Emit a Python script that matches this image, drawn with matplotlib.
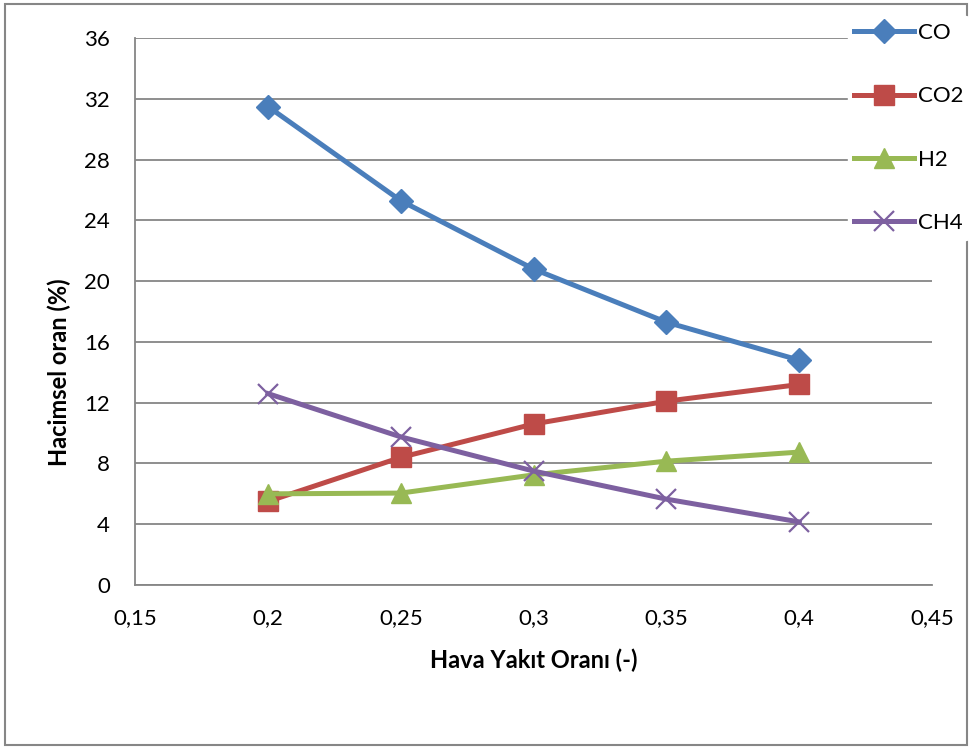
import matplotlib
matplotlib.use("Agg")
import matplotlib.pyplot as plt
from matplotlib.patches import Rectangle
from matplotlib.ticker import FixedLocator, FuncFormatter

plt.rcParams['font.family'] = ['Lato', 'DejaVu Sans']

# air/fuel ratio and gas composition (% by volume)
ratio = [0.2, 0.25, 0.3, 0.35, 0.4]
co = [31.5, 25.3, 20.8, 17.3, 14.8]
co2 = [5.5, 8.4, 10.6, 12.1, 13.2]
h2 = [6.0, 6.05, 7.25, 8.15, 8.75]
ch4 = [12.6, 9.75, 7.5, 5.65, 4.15]

x_ticks = [0.15, 0.2, 0.25, 0.3, 0.35, 0.4, 0.45]
y_ticks = [0, 4, 8, 12, 16, 20, 24, 28, 32, 36]

fig = plt.figure(figsize=(9.72, 7.49), dpi=100)
ax = fig.add_axes([0.139, 0.219, 0.820, 0.730])

ax.plot(ratio, co, color='#4a7ebb', lw=3.6, marker='D', ms=12, label='CO', zorder=3)
ax.plot(ratio, co2, color='#be4b48', lw=3.6, marker='s', ms=14, label='CO2', zorder=3)
ax.plot(ratio, h2, color='#98b954', lw=3.6, marker='^', ms=14, label='H2', zorder=3)
ax.plot(ratio, ch4, color='#7d60a0', lw=3.6, marker='x', ms=14, mew=1.6,
        label='CH4', zorder=3)

ax.set_xlim(0.15, 0.45)
ax.set_ylim(0, 36)
ax.xaxis.set_major_locator(FixedLocator(x_ticks))
ax.yaxis.set_major_locator(FixedLocator(y_ticks))
ax.xaxis.set_major_formatter(FuncFormatter(lambda v, p: ('%g' % v).replace('.', ',')))
ax.grid(axis='y', color='#868686', lw=1.3)
for s in ['top', 'right']:
    ax.spines[s].set_visible(False)
ax.spines['left'].set_color('#868686')
ax.spines['bottom'].set_color('#868686')
ax.spines['left'].set_linewidth(1.3)
ax.spines['bottom'].set_linewidth(1.3)
ax.tick_params(axis='y', length=0, labelsize=16, pad=18)
ax.tick_params(axis='x', length=0, labelsize=16, pad=17)

ax.set_xlabel('Hava Yakıt Oranı (-)', fontsize=17, fontweight='bold')
ax.set_ylabel('Hacimsel oran (%)', fontsize=17, fontweight='bold')
ax.xaxis.set_label_coords(0.5, -0.117)
ax.yaxis.set_label_coords(-0.080, 0.39)

leg = fig.legend(loc='upper left', bbox_to_anchor=(0.872, 0.978), frameon=True,
                 fontsize=16, handlelength=2.7, handletextpad=0.15,
                 labelspacing=1.95, borderaxespad=0, borderpad=0.3)
leg.get_frame().set_edgecolor('white')
leg.get_frame().set_facecolor('white')
leg.get_frame().set_alpha(1)

fig.patches.append(Rectangle((0.005, 0.006), 0.99, 0.988, transform=fig.transFigure,
                             fill=False, edgecolor='#868686', lw=1.5))

fig.savefig('out.png', dpi=100)
